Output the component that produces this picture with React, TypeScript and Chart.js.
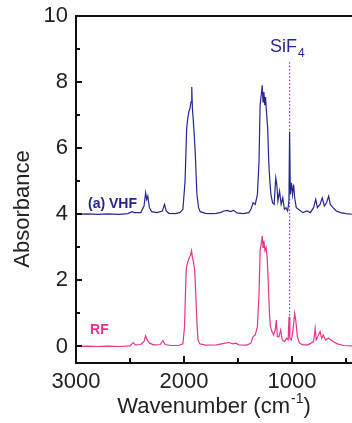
import React, { useEffect, useRef } from "react";
import { Chart, registerables } from "chart.js";

Chart.register(...registerables);

// ---- Data ----
const vhfWavenumber = [
  3000, 2900, 2800, 2700, 2600, 2520, 2480, 2460, 2400, 2370, 2355, 2345, 2335, 2320, 2300, 2250,
  2200, 2180, 2165, 2140, 2080, 2040, 2010, 1990, 1975, 1965, 1955, 1945, 1935, 1928, 1922, 1915,
  1905, 1895, 1880, 1865, 1850, 1800, 1750, 1700, 1660, 1630, 1600, 1570, 1540, 1510, 1450, 1400,
  1380, 1360, 1340, 1320, 1305, 1295, 1285, 1275, 1268, 1260, 1252, 1245, 1238, 1225, 1215, 1205,
  1195, 1180, 1165, 1150, 1140, 1130, 1115, 1100, 1085, 1070, 1055, 1040, 1028, 1022, 1015, 1005,
  995, 985, 975, 960, 940, 900, 860, 830, 800, 780, 765, 740, 720, 700, 680, 660, 645, 620, 590,
  550, 500, 440,
];
const vhfAbsorbance = [
  4.0, 4.01, 4.0, 4.01, 4.0, 4.02, 4.08, 4.05, 4.05, 4.25, 4.65, 4.45, 4.55, 4.2, 4.08, 4.05,
  4.1, 4.3, 4.1, 4.03, 4.02, 4.05, 4.15, 5.0, 6.6, 6.9, 7.1, 7.2, 7.4, 7.85, 7.2, 6.9,
  6.4, 5.8, 4.6, 4.2, 4.08, 4.03, 4.02, 4.03, 4.06, 4.1, 4.12, 4.08, 4.12, 4.04, 4.02, 4.05,
  4.15, 4.35, 4.3, 4.6, 5.6, 7.3, 7.6, 7.9, 7.4, 7.7, 7.3, 7.55, 7.2, 6.6, 5.6, 5.0,
  4.6, 4.35, 4.3, 5.1, 4.9, 4.4, 4.7, 4.3, 4.5, 4.15, 4.2, 4.1, 4.4, 6.5, 4.6, 4.95,
  4.6, 4.9, 4.5, 4.2, 4.15, 4.05, 4.1, 4.05, 4.2, 4.45, 4.2, 4.3, 4.5, 4.25, 4.35, 4.55, 4.3, 4.2, 4.1,
  4.05, 4.02, 4.0,
];
const rfWavenumber = [
  3000, 2900, 2800, 2700, 2600, 2500, 2470, 2450, 2400, 2370, 2355, 2340, 2320, 2280, 2220, 2195,
  2175, 2120, 2050, 2010, 1995, 1980, 1970, 1960, 1950, 1940, 1930, 1922, 1912, 1900, 1890, 1880,
  1870, 1855, 1800, 1700, 1650, 1620, 1580, 1550, 1520, 1490, 1420, 1380, 1360, 1340, 1320, 1305,
  1295, 1285, 1275, 1268, 1260, 1250, 1240, 1230, 1220, 1210, 1200, 1185, 1170, 1155, 1145, 1135,
  1120, 1105, 1090, 1070, 1050, 1035, 1027, 1020, 1005, 990, 975, 965, 950, 930, 900, 850, 800,
  785, 775, 760, 740, 725, 710, 690, 660, 620, 580, 520, 440,
];
const rfAbsorbance = [
  0.0, 0.01, 0.0, 0.01, 0.0, 0.02, 0.12, 0.05, 0.06, 0.15, 0.32, 0.2, 0.1, 0.05, 0.06, 0.18,
  0.06, 0.03, 0.03, 0.08, 0.6, 2.3, 2.5, 2.6, 2.7, 2.75, 2.9, 2.7, 2.55, 2.3, 1.5, 0.7,
  0.2, 0.08, 0.04, 0.05, 0.08, 0.1, 0.12, 0.08, 0.1, 0.05, 0.04, 0.1, 0.3, 0.35, 0.6, 1.6,
  2.9, 3.1, 3.35, 3.0, 3.2, 2.9, 3.0, 2.7, 2.0, 1.1, 0.6, 0.45, 0.35, 0.5, 0.8, 0.3,
  0.3, 0.5, 0.2, 0.15, 0.25, 0.2, 0.9, 0.25, 0.2, 0.5, 1.0, 0.8, 0.3, 0.1, 0.05, 0.05, 0.15,
  0.55, 0.2, 0.3, 0.45, 0.25, 0.35, 0.2, 0.25, 0.15, 0.08, 0.03, 0.02,
];
const sif4Wavenumber = [1022, 1022];
const sif4Marker = [8.6, 0.3];

const xTicks = [3000, 2000, 1000];
const xMinorTicks = [2500, 1500, 500];
const yTicks = [0, 2, 4, 6, 8, 10];
const yMinorTicks = [1, 3, 5, 7, 9];

const FONT = '"Liberation Sans", Arial, Helvetica, sans-serif';
const VHF_COLOR = "#26268c";
const RF_COLOR = "#e8338a";
const TEXT_COLOR = "#222222";
const AXIS_COLOR = "#111111";

const decorPlugin = {
  id: "decor",
  afterDraw(chart: any) {
    const { ctx, chartArea, scales } = chart;
    const x = scales.x;
    const y = scales.y;
    ctx.save();

    const L = Math.round(chartArea.left);
    const T = Math.round(chartArea.top);
    const B = Math.round(chartArea.bottom);
    const R = Math.round(chartArea.right);

    ctx.fillStyle = AXIS_COLOR;
    // frame: top line, left axis, bottom axis
    ctx.fillRect(L - 1, T - 1, R - L + 1, 2);
    ctx.fillRect(L - 1, T - 1, 2, B - T + 2);
    ctx.fillRect(L - 1, B - 1, R - L + 1, 2);

    // inward ticks
    yTicks.forEach((v) => {
      const py = Math.round(y.getPixelForValue(v));
      ctx.fillRect(L, py - 1, 6, 2);
    });
    yMinorTicks.forEach((v) => {
      const py = Math.round(y.getPixelForValue(v));
      ctx.fillRect(L, py - 1, 4, 2);
    });
    xTicks.forEach((v) => {
      const px = Math.round(x.getPixelForValue(v));
      ctx.fillRect(px - 1, B - 7, 2, 7);
    });
    xMinorTicks.forEach((v) => {
      const px = Math.round(x.getPixelForValue(v));
      ctx.fillRect(px - 1, B - 5, 2, 5);
    });

    // series labels
    ctx.textBaseline = "alphabetic";
    ctx.textAlign = "left";
    ctx.font = `bold 14px ${FONT}`;
    ctx.fillStyle = VHF_COLOR;
    ctx.fillText("(a) VHF", x.getPixelForValue(2889), y.getPixelForValue(4.2));
    ctx.fillStyle = RF_COLOR;
    ctx.fillText("RF", x.getPixelForValue(2870), y.getPixelForValue(0.39));

    // SiF4 label
    ctx.fillStyle = VHF_COLOR;
    ctx.font = `18px ${FONT}`;
    const sx = x.getPixelForValue(1204);
    const sy = y.getPixelForValue(8.9);
    ctx.fillText("SiF", sx, sy);
    const w = ctx.measureText("SiF").width;
    ctx.font = `12px ${FONT}`;
    ctx.fillText("4", sx + w + 1, sy + 5);

    // axis titles
    ctx.fillStyle = TEXT_COLOR;
    ctx.font = `22px ${FONT}`;
    ctx.textAlign = "center";
    ctx.save();
    ctx.translate(29, 209);
    ctx.rotate(-Math.PI / 2);
    ctx.fillText("Absorbance", 0, 0);
    ctx.restore();

    const main = "Wavenumber (cm";
    const sup = "-1";
    const close = ")";
    ctx.textAlign = "left";
    ctx.font = `22px ${FONT}`;
    const wMain = ctx.measureText(main).width;
    const wClose = ctx.measureText(close).width;
    ctx.font = `14px ${FONT}`;
    const wSup = ctx.measureText(sup).width;
    const total = wMain + wSup + wClose + 1;
    const cx = (L + R) / 2;
    const bx = cx - total / 2;
    const by = 413;
    ctx.font = `22px ${FONT}`;
    ctx.fillText(main, bx, by);
    ctx.font = `14px ${FONT}`;
    ctx.fillText(sup, bx + wMain + 1, by - 10);
    ctx.font = `22px ${FONT}`;
    ctx.fillText(close, bx + wMain + wSup + 1, by);
    ctx.restore();
  },
};

export default function App() {
  const canvasRef = useRef<HTMLCanvasElement | null>(null);

  useEffect(() => {
    const canvas = canvasRef.current;
    if (!canvas) return;
    const toPoints = (xs: number[], ys: number[]) => xs.map((v, i) => ({ x: v, y: ys[i] }));
    const chart = new Chart(canvas, {
      type: "line",
      data: {
        datasets: [
          {
            label: "VHF",
            data: toPoints(vhfWavenumber, vhfAbsorbance),
            borderColor: VHF_COLOR,
            borderWidth: 1.2,
            pointRadius: 0,
            tension: 0,
          },
          {
            label: "RF",
            data: toPoints(rfWavenumber, rfAbsorbance),
            borderColor: RF_COLOR,
            borderWidth: 1.2,
            pointRadius: 0,
            tension: 0,
          },
          {
            label: "SiF4",
            data: toPoints(sif4Wavenumber, sif4Marker),
            borderColor: "#8a3f9e",
            borderWidth: 1.2,
            borderDash: [1.5, 2],
            pointRadius: 0,
          },
        ],
      },
      options: {
        animation: false,
        responsive: false,
        devicePixelRatio: 1,
        layout: { padding: { top: 16, left: 0, right: 0, bottom: 0 } },
        plugins: { legend: { display: false }, tooltip: { enabled: false } },
        scales: {
          x: {
            type: "linear",
            reverse: true,
            min: 444,
            max: 3000,
            afterBuildTicks: (scale: any) => {
              scale.ticks = xTicks.map((v) => ({ value: v }));
            },
            afterFit: (scale: any) => {
              scale.height = 60;
              scale.paddingLeft = 0;
              scale.paddingRight = 0;
            },
            grid: { display: false, drawTicks: false },
            border: { display: false },
            ticks: {
              color: TEXT_COLOR,
              font: { family: FONT, size: 22 },
              padding: 6,
              maxRotation: 0,
              autoSkip: false,
              callback: (v: any) => String(v),
            },
          },
          y: {
            type: "linear",
            min: -0.5,
            max: 10,
            afterBuildTicks: (scale: any) => {
              scale.ticks = yTicks.map((v) => ({ value: v }));
            },
            afterFit: (scale: any) => {
              scale.width = 76;
              scale.paddingTop = 0;
              scale.paddingBottom = 0;
            },
            grid: { display: false, drawTicks: false },
            border: { display: false },
            ticks: {
              color: TEXT_COLOR,
              font: { family: FONT, size: 22 },
              padding: 8,
              autoSkip: false,
              callback: (v: any) => String(v),
            },
          },
        },
      },
      plugins: [decorPlugin],
    });
    return () => chart.destroy();
  }, []);

  return (
    <div style={{ position: "absolute", left: 0, top: 0, width: 352, height: 423 }}>
      <canvas ref={canvasRef} width={352} height={423} style={{ display: "block" }} />
      <div
        style={{
          position: "absolute",
          left: 75,
          top: 15,
          width: 277,
          height: 348,
          borderTop: `2px solid ${AXIS_COLOR}`,
          borderLeft: `2px solid ${AXIS_COLOR}`,
          boxSizing: "border-box",
          pointerEvents: "none",
        }}
      />
    </div>
  );
}
